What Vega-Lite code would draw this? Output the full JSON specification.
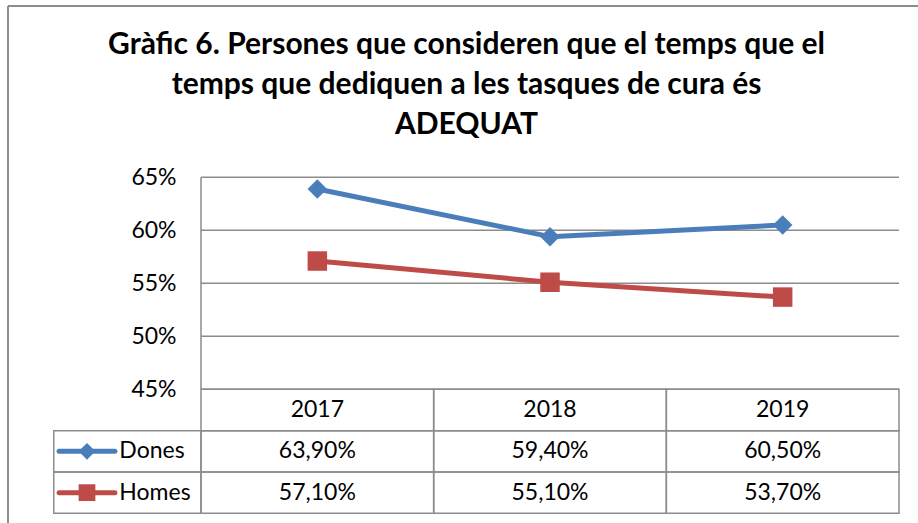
{
  "$schema": "https://vega.github.io/schema/vega-lite/v6.json",
  "width": 910,
  "height": 517,
  "autosize": "none",
  "padding": {"left": 8, "top": 6, "right": 0, "bottom": 0},
  "background": "white",
  "config": {
    "view": {"stroke": "#8c8c8c", "strokeWidth": 2, "strokeDash": [910, 1427, 517, 0]},
    "locale": {"number": {"decimal": ",", "thousands": ".", "grouping": [3], "currency": ["", " €"]}},
    "font": "Lato"
  },
  "title": {
    "text": ["Gràfic 6. Persones que consideren que el temps que el", "temps que dediquen a les tasques de cura és", "ADEQUAT"],
    "font": "Lato",
    "fontSize": 30,
    "fontWeight": "bold",
    "color": "black",
    "lineHeight": 40,
    "anchor": "middle",
    "frame": "group",
    "offset": -134,
    "dx": 3.5
  },
  "data": {
    "values": [
      {"year": "2017", "series": "Dones", "value": 0.639},
      {"year": "2018", "series": "Dones", "value": 0.594},
      {"year": "2019", "series": "Dones", "value": 0.605},
      {"year": "2017", "series": "Homes", "value": 0.571},
      {"year": "2018", "series": "Homes", "value": 0.551},
      {"year": "2019", "series": "Homes", "value": 0.537}
    ]
  },
  "layer": [
    {
      "layer": [
        {
          "data": {"values": [{"tick": 0.45}, {"tick": 0.5}, {"tick": 0.55}, {"tick": 0.6}, {"tick": 0.65}]},
          "mark": {"type": "rule", "stroke": "#8c8c8c", "strokeWidth": 1.5},
          "encoding": {
            "x": {"datum": "2017", "type": "nominal", "bandPosition": 0, "axis": null,
                  "scale": {"type": "band", "domain": ["2017", "2018", "2019"], "paddingInner": 0, "paddingOuter": 0.4556, "align": 0.9104, "round": false}},
            "x2": {"datum": "2019", "bandPosition": 1},
            "y": {"field": "tick", "type": "quantitative",
                  "scale": {"domain": [0.32386, 0.8116], "nice": false, "zero": false},
                  "axis": {"values": [0.45, 0.5, 0.55, 0.6, 0.65], "format": ".0%", "domain": false, "ticks": false, "grid": false,
                           "labelPadding": 25, "offset": -193, "labelFont": "Lato", "labelFontSize": 23, "labelColor": "black", "title": null}}
          }
        },
        {
          "data": {"values": [{"edge": "left"}]},
          "mark": {"type": "rule", "stroke": "#8c8c8c", "strokeWidth": 1.5},
          "encoding": {
            "x": {"datum": "2017", "type": "nominal", "bandPosition": 0, "axis": null},
            "y": {"datum": 0.45, "type": "quantitative"},
            "y2": {"datum": 0.65}
          }
        },
        {
          "mark": {"type": "line", "strokeWidth": 5, "strokeCap": "round", "strokeJoin": "round"},
          "encoding": {
            "x": {"field": "year", "type": "nominal", "axis": null},
            "y": {"field": "value", "type": "quantitative"},
            "color": {"field": "series", "type": "nominal", "scale": {"domain": ["Dones", "Homes"], "range": ["#4A7EBB", "#BE4B48"]}, "legend": null}
          }
        },
        {
          "mark": {"type": "point", "filled": true, "size": 380, "opacity": 1},
          "encoding": {
            "x": {"field": "year", "type": "nominal", "axis": null},
            "y": {"field": "value", "type": "quantitative"},
            "color": {"field": "series", "type": "nominal", "legend": null},
            "shape": {"field": "series", "type": "nominal", "scale": {"domain": ["Dones", "Homes"], "range": ["diamond", "square"]}, "legend": null}
          }
        }
      ]
    },
    {
      "layer": [
        {
          "mark": {"type": "rect", "fillOpacity": 0, "stroke": "#8c8c8c", "strokeWidth": 1.5},
          "encoding": {
            "x": {"field": "year", "type": "nominal", "axis": null},
            "y": {"field": "series", "type": "nominal", "axis": null,
                  "scale": {"type": "band", "domain": ["Any", "Dones", "Homes"], "range": [383.3, 507.3], "paddingInner": 0, "paddingOuter": 0, "round": false}}
          }
        },
        {
          "transform": [{"filter": "datum.series == 'Dones'"}],
          "mark": {"type": "rect", "fillOpacity": 0, "stroke": "#8c8c8c", "strokeWidth": 1.5},
          "encoding": {
            "x": {"field": "year", "type": "nominal", "axis": null},
            "y": {"datum": "Any", "type": "nominal", "axis": null}
          }
        },
        {
          "transform": [{"filter": "datum.year == '2017'"}],
          "mark": {"type": "rect", "fillOpacity": 0, "stroke": "#8c8c8c", "strokeWidth": 1.5},
          "encoding": {
            "x": {"datum": "2017", "type": "nominal", "bandPosition": -0.633, "axis": null},
            "x2": {"datum": "2017", "bandPosition": 0},
            "y": {"field": "series", "type": "nominal", "axis": null}
          }
        },
        {
          "mark": {"type": "text", "fontSize": 23, "font": "Lato", "color": "black", "baseline": "middle"},
          "encoding": {
            "x": {"field": "year", "type": "nominal", "axis": null},
            "y": {"field": "series", "type": "nominal", "axis": null},
            "text": {"field": "value", "type": "quantitative", "format": ".2%"}
          }
        },
        {
          "transform": [{"filter": "datum.series == 'Dones'"}],
          "mark": {"type": "text", "fontSize": 23, "font": "Lato", "color": "black", "baseline": "middle"},
          "encoding": {
            "x": {"field": "year", "type": "nominal", "axis": null},
            "y": {"datum": "Any", "type": "nominal", "axis": null},
            "text": {"field": "year", "type": "nominal"}
          }
        },
        {
          "transform": [{"filter": "datum.year == '2017'"}],
          "mark": {"type": "rule", "strokeWidth": 5, "strokeCap": "round"},
          "encoding": {
            "x": {"datum": "2017", "type": "nominal", "bandPosition": -0.61, "axis": null},
            "x2": {"datum": "2017", "bandPosition": -0.37},
            "y": {"field": "series", "type": "nominal", "axis": null},
            "color": {"field": "series", "type": "nominal", "legend": null}
          }
        },
        {
          "transform": [{"filter": "datum.year == '2017'"}],
          "mark": {"type": "point", "filled": true, "size": 280, "opacity": 1},
          "encoding": {
            "x": {"datum": "2017", "type": "nominal", "bandPosition": -0.49, "axis": null},
            "y": {"field": "series", "type": "nominal", "axis": null},
            "color": {"field": "series", "type": "nominal", "legend": null},
            "shape": {"field": "series", "type": "nominal", "legend": null}
          }
        },
        {
          "transform": [{"filter": "datum.year == '2017'"}],
          "mark": {"type": "text", "fontSize": 23, "font": "Lato", "color": "black", "baseline": "middle", "align": "left"},
          "encoding": {
            "x": {"datum": "2017", "type": "nominal", "bandPosition": -0.351, "axis": null},
            "y": {"field": "series", "type": "nominal", "axis": null},
            "text": {"field": "series", "type": "nominal"}
          }
        }
      ]
    }
  ],
  "resolve": {"scale": {"y": "independent"}}
}
